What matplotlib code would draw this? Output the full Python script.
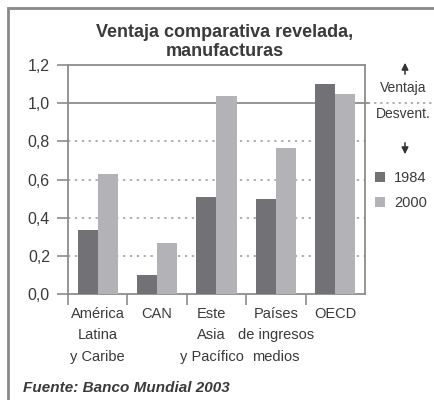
import numpy as np
import matplotlib
matplotlib.use("Agg")
import matplotlib.pyplot as plt
from matplotlib.patches import Rectangle, FancyArrowPatch
from matplotlib.transforms import ScaledTranslation

plt.rcParams['font.family'] = ['Liberation Sans', 'DejaVu Sans']

categories = ["América\nLatina\ny Caribe", "CAN", "Este\nAsia\ny Pacífico",
              "Países\nde ingresos\nmedios", "OECD"]
years = ["1984", "2000"]
vals_1984 = [0.335, 0.10, 0.51, 0.50, 1.10]
vals_2000 = [0.63, 0.265, 1.035, 0.765, 1.05]
yticks = [0.0, 0.2, 0.4, 0.6, 0.8, 1.0, 1.2]

dark = "#717176"
light = "#b3b3b7"
txt = "#3a3a3a"
edge = "#8c8c8c"

W, H = 435, 400
fig = plt.figure(figsize=(4.35, 4.0), dpi=100)
ax = fig.add_axes([68 / W, 1 - 294 / H, (365 - 68) / W, (294 - 65) / H])

x = np.arange(len(categories))
w = 0.34
b1 = ax.bar(x - w / 2, vals_1984, w, color=dark, label=years[0], zorder=3)
b2 = ax.bar(x + w / 2, vals_2000, w, color=light, label=years[1], zorder=3)

ax.set_xlim(-0.5, len(categories) - 0.5)
ax.set_ylim(0, 1.2)
ax.set_yticks(yticks)
ax.set_yticklabels([f"{v:.1f}".replace(".", ",") for v in yticks], fontsize=11.5, color=txt)

# dotted grid, solid line at 1.0 continuing dotted past the axes
for v in yticks[1:-2]:
    ax.axhline(v, color="#9a9a9a", lw=1.1, ls=(0, (1.5, 3)), zorder=1)
ax.plot([-0.5, 4.55], [1.0, 1.0], color="#8c8c8c", lw=1.3, zorder=1, clip_on=False)
ax.plot([4.55, 6.0], [1.0, 1.0], color="#9a9a9a", lw=1.1, ls=(0, (1.5, 2.5)),
        zorder=1, clip_on=False)

# boundary ticks below, labels at group centres
ax.set_xticks(np.arange(-0.5, len(categories) - 1))
ax.set_xticklabels([])
ax.set_xticks(x, minor=True)
ax.set_xticklabels(categories, minor=True, fontsize=10.5, color=txt, linespacing=1.7)
ax.tick_params(axis="x", which="minor", length=0, pad=9)
ax.tick_params(axis="x", which="major", length=8, color=edge, width=1.2)
ax.tick_params(axis="y", length=8, color=edge, width=1.2, pad=5)
# small nudges so the middle labels don't collide
nudges = [0, 0, -5, 0, 0]
for lab, dx in zip(ax.get_xticklabels(minor=True), nudges):
    lab.set_transform(lab.get_transform() + ScaledTranslation(dx / 100, 0, fig.dpi_scale_trans))

for s in ax.spines.values():
    s.set_color(edge)
    s.set_linewidth(1.3)

fig.text(225 / W, 1 - 42 / H, "Ventaja comparativa revelada,\nmanufacturas",
         ha="center", va="center", fontsize=13, fontweight="bold", color=txt,
         linespacing=1.15)

# right side annotations
ax_x = 405 / W
fig.text(403 / W, 1 - 88 / H, "Ventaja", ha="center", va="center", fontsize=10, color=txt)
fig.text(403 / W, 1 - 114 / H, "Desvent.", ha="center", va="center", fontsize=10, color=txt)
for y0, y1 in [(77, 60), (140, 157)]:
    fig.add_artist(FancyArrowPatch(
        (ax_x, 1 - y0 / H), (ax_x, 1 - y1 / H), transform=fig.transFigure,
        arrowstyle="-|>,head_length=4,head_width=2", color="#333333", lw=1.1))

fig.legend(handles=[b1, b2], labels=years, loc="upper left",
           bbox_to_anchor=(368 / W, 1 - 164 / H), frameon=False, fontsize=10.5,
           handlelength=0.7, handleheight=0.7, handletextpad=0.6, labelspacing=0.75,
           labelcolor=txt, borderpad=0)

fig.text(23 / W, 1 - 388 / H, "Fuente: Banco Mundial 2003", ha="left", va="center",
         fontsize=11, fontweight="bold", fontstyle="italic", color=txt)

fig.add_artist(Rectangle((8 / W, -0.1), 1.2, 1.1 - 8 / H, transform=fig.transFigure,
                         fill=False, edgecolor="#8a8a8a", lw=2))

fig.savefig("out.png", dpi=100, facecolor="white")
